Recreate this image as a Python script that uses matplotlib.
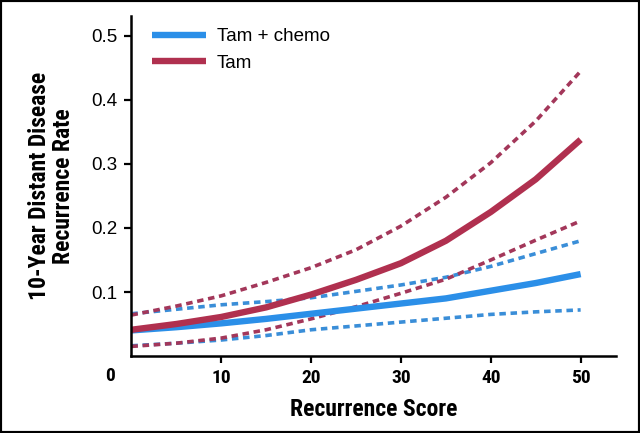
import matplotlib
matplotlib.use("Agg")
import matplotlib.pyplot as plt
from matplotlib.patches import Rectangle

# recurrence score positions where the curves were read
scores = [0, 5, 10, 15, 20, 25, 30, 35, 40, 45, 50]

# Tam + chemo
chemo_mid = [0.040, 0.045, 0.051, 0.058, 0.066, 0.074, 0.082, 0.090, 0.102, 0.114, 0.128]
chemo_hi = [0.066, 0.073, 0.080, 0.085, 0.091, 0.101, 0.111, 0.123, 0.140, 0.160, 0.180]
chemo_lo = [0.016, 0.020, 0.025, 0.032, 0.041, 0.047, 0.053, 0.059, 0.065, 0.069, 0.072]

# Tam alone
tam_mid = [0.041, 0.050, 0.061, 0.076, 0.096, 0.119, 0.145, 0.180, 0.225, 0.276, 0.338]
tam_hi = [0.064, 0.078, 0.094, 0.115, 0.138, 0.166, 0.203, 0.248, 0.302, 0.367, 0.445]
tam_lo = [0.015, 0.020, 0.028, 0.041, 0.058, 0.077, 0.098, 0.120, 0.150, 0.181, 0.211]

x_ticks = [10, 20, 30, 40, 50]
y_ticks = [0.1, 0.2, 0.3, 0.4, 0.5]

blue = "#2B8FE8"
red = "#B0304F"
blue_dash = "#3A8ED8"
red_dash = "#A3375A"

# condensed heavy face for the axis titles, Arial-like for the rest
narrow = ["Roboto Condensed", "Archivo Narrow", "PT Sans Narrow", "Liberation Sans Narrow", "DejaVu Sans"]
plain = ["Liberation Sans", "DejaVu Sans"]

fig = plt.figure(figsize=(6.4, 4.33), dpi=100)
ax = fig.add_axes([0.2053, 0.1778, 0.7567, 0.785])

# confidence bands (dashed)
dash = (0, (1.8, 1.3))
ax.plot(scores, chemo_hi, color=blue_dash, lw=2.6, linestyle=dash)
ax.plot(scores, chemo_lo, color=blue_dash, lw=2.6, linestyle=dash)
ax.plot(scores, tam_hi, color=red_dash, lw=2.6, linestyle=dash)
ax.plot(scores, tam_lo, color=red_dash, lw=2.6, linestyle=dash)

# point estimates
ax.plot(scores, chemo_mid, color=blue, lw=4.6, label="Tam + chemo",
        solid_capstyle="butt", solid_joinstyle="round")
ax.plot(scores, tam_mid, color=red, lw=4.6, label="Tam",
        solid_capstyle="butt", solid_joinstyle="round")

ax.set_xlim(0, 53.9)
ax.set_ylim(0, 0.531)
ax.set_xticks(x_ticks)
ax.set_yticks(y_ticks)
ax.set_xticklabels([str(v) for v in x_ticks], family=narrow, fontweight="heavy", fontsize=14)
ax.set_yticklabels(["%.1f" % v for v in y_ticks], family=plain, fontsize=13.5)

for side in ["top", "right"]:
    ax.spines[side].set_visible(False)
for side in ["left", "bottom"]:
    ax.spines[side].set_linewidth(1.8)
ax.tick_params(axis="both", direction="out", length=5, width=1.6, color="black")
ax.tick_params(axis="x", pad=4)
ax.tick_params(axis="y", pad=5)

# the shared origin label sits left of the axis corner
ax.text(-0.044, -0.059, "0", transform=ax.transAxes, ha="center", va="center",
        family=narrow, fontweight="heavy", fontsize=14)

ax.set_xlabel("Recurrence Score", family=narrow, fontweight="heavy", fontsize=17, labelpad=8)
ax.set_ylabel("10-Year Distant Disease\nRecurrence Rate", family=narrow, fontweight="heavy",
              fontsize=17, labelpad=12, linespacing=1.05)

ax.legend(loc="upper left", bbox_to_anchor=(0.0425, 0.965), frameon=False,
          prop={"family": plain, "size": 13.5}, handlelength=2.9, handletextpad=0.55,
          labelspacing=0.5, borderpad=0, borderaxespad=0)

# black frame around the whole figure
fig.patches.append(Rectangle((0, 0), 1, 1, transform=fig.transFigure, fill=False,
                             edgecolor="black", linewidth=3))

fig.savefig("out.png", dpi=100)
